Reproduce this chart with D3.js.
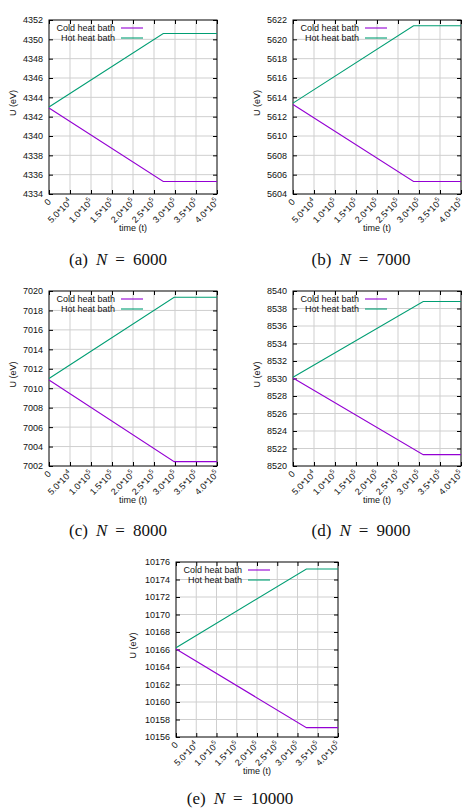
<!DOCTYPE html>
<html>
<head>
<meta charset="utf-8">
<script src="https://cdn.jsdelivr.net/npm/d3@7"></script>
<style>
    body { margin: 0; background: #fff; }
    svg { display: block; }
</style>
</head>
<body>
<svg width="464" height="812"></svg>
<script>
// five panels, cold / hot heat bath energy vs time
var panelLetter = ["a", "b", "c", "d", "e"];
var panelN = [6000, 7000, 8000, 9000, 10000];
var yMinVal = [4334, 5604, 7002, 8520, 10156];
var yMaxVal = [4352, 5622, 7020, 8540, 10176];
var breakTime = [2.72e5, 2.87e5, 2.98e5, 3.1e5, 3.22e5];
var coldStart = [4342.9, 5613.25, 7010.85, 8530.05, 10166.05];
var coldEnd = [4335.3, 5605.3, 7002.45, 8521.3, 10157.07];
var hotStart = [4343.0, 5613.4, 7011.0, 8530.15, 10166.2];
var hotEnd = [4350.6, 5621.4, 7019.35, 8538.8, 10175.2];
var tEnd = 4e5;

var xTicks = [0, 5e4, 1e5, 1.5e5, 2e5, 2.5e5, 3e5, 3.5e5, 4e5];
var xTickMant = ["0", "5.0", "1.0", "1.5", "2.0", "2.5", "3.0", "3.5", "4.0"];
var xTickExp = ["", "4", "5", "5", "5", "5", "5", "5", "5"];

var seriesNames = ["Cold heat bath", "Hot heat bath"];
var seriesColors = ["#9400d3", "#009e73"];

// layout of the panels on the page
var panelLeft = [49, 293, 49, 293, 176];
var panelTop = [20, 20, 291, 291, 562];
var panelW = [168, 168, 168, 168, 162];
var panelH = [174, 174, 175, 175, 175];
var captionX = [118, 361, 118, 361, 240];
var captionY = [265, 265, 536, 536, 804];

var svg = d3.select("svg");
var font = "'Liberation Sans', Arial, sans-serif";

function drawPanel(i) {
    var w = panelW[i], h = panelH[i];
    var g = svg.append("g")
        .attr("transform", "translate(" + panelLeft[i] + "," + panelTop[i] + ")");

    var x = d3.scaleLinear().domain([0, tEnd]).range([0, w]);
    var y = d3.scaleLinear().domain([yMinVal[i], yMaxVal[i]]).range([h, 0]);
    var yTicks = d3.range(yMinVal[i], yMaxVal[i] + 1, 2);

    // grid
    g.append("g").selectAll("line")
        .data(xTicks.slice(1, -1))
        .enter().append("line")
        .attr("x1", function (d) { return x(d); })
        .attr("x2", function (d) { return x(d); })
        .attr("y1", 0).attr("y2", h)
        .attr("stroke", "#cfcfcf").attr("stroke-width", 1);
    g.append("g").selectAll("line")
        .data(yTicks.slice(1, -1))
        .enter().append("line")
        .attr("y1", function (d) { return y(d); })
        .attr("y2", function (d) { return y(d); })
        .attr("x1", 0).attr("x2", w)
        .attr("stroke", "#cfcfcf").attr("stroke-width", 1);

    // inward ticks on all four sides
    var yAxisL = d3.axisLeft(y).tickValues(yTicks).tickFormat(d3.format("d"))
        .tickSizeInner(-4).tickSizeOuter(0).tickPadding(6);
    var yAxisR = d3.axisRight(y).tickValues(yTicks).tickSizeInner(-4).tickSizeOuter(0).tickFormat("");
    var xAxisB = d3.axisBottom(x).tickValues(xTicks).tickSizeInner(-4).tickSizeOuter(0).tickFormat("");
    var xAxisT = d3.axisTop(x).tickValues(xTicks).tickSizeInner(-4).tickSizeOuter(0).tickFormat("");

    var gl = g.append("g").call(yAxisL);
    gl.selectAll("text").attr("font-family", font).attr("font-size", 9).attr("fill", "#111");
    g.append("g").attr("transform", "translate(" + w + ",0)").call(yAxisR);
    g.append("g").attr("transform", "translate(0," + h + ")").call(xAxisB);
    g.append("g").call(xAxisT);
    g.selectAll(".domain").remove();
    g.selectAll(".tick line").attr("stroke", "#000");

    // rotated x tick labels with superscript exponents
    var xl = g.append("g").selectAll("text")
        .data(xTicks)
        .enter().append("text")
        .attr("transform", function (d) {
            return "translate(" + (x(d) - 1) + "," + (h + 5) + ") rotate(-45)";
        })
        .attr("text-anchor", "end")
        .attr("dy", "0.55em")
        .attr("font-family", font)
        .attr("font-size", 9)
        .attr("fill", "#111");
    xl.append("tspan").text(function (d, k) {
        return k === 0 ? xTickMant[k] : xTickMant[k] + "*10";
    });
    xl.append("tspan")
        .attr("font-size", 6.5)
        .attr("dy", "-0.6em")
        .text(function (d, k) { return xTickExp[k]; });

    // border
    g.append("rect")
        .attr("width", w).attr("height", h)
        .attr("fill", "none").attr("stroke", "#000").attr("stroke-width", 1);

    // series
    var cold = [[0, coldStart[i]], [breakTime[i], coldEnd[i]], [tEnd, coldEnd[i]]];
    var hot = [[0, hotStart[i]], [breakTime[i], hotEnd[i]], [tEnd, hotEnd[i]]];
    var line = d3.line()
        .x(function (d) { return x(d[0]); })
        .y(function (d) { return y(d[1]); });
    g.append("g").selectAll("path")
        .data([cold, hot])
        .enter().append("path")
        .attr("d", line)
        .attr("fill", "none")
        .attr("stroke", function (d, k) { return seriesColors[k]; })
        .attr("stroke-width", 1.1);

    // legend
    var lg = g.append("g").selectAll("g")
        .data(seriesNames)
        .enter().append("g")
        .attr("transform", function (d, k) { return "translate(0," + (8 + k * 10) + ")"; });
    lg.append("text")
        .attr("x", 66).attr("dy", "0.35em")
        .attr("text-anchor", "end")
        .attr("font-family", font).attr("font-size", 9)
        .attr("fill", "#111")
        .text(function (d) { return d; });
    lg.append("line")
        .attr("x1", 72).attr("x2", 94)
        .attr("stroke", function (d, k) { return seriesColors[k]; })
        .attr("stroke-width", 1.1);

    // axis titles
    g.append("text")
        .attr("x", w / 2).attr("y", h + 37)
        .attr("text-anchor", "middle")
        .attr("font-family", font).attr("font-size", 9)
        .attr("fill", "#111")
        .text("time (t)");
    g.append("text")
        .attr("transform", "translate(" + (i === 4 ? -40 : -33) + "," + (h / 2 - 4) + ") rotate(-90)")
        .attr("text-anchor", "middle")
        .attr("font-family", font).attr("font-size", 9)
        .attr("fill", "#111")
        .text("U (eV)");

    // caption
    var cap = svg.append("text")
        .attr("x", captionX[i]).attr("y", captionY[i])
        .attr("text-anchor", "middle")
        .attr("font-family", "'Liberation Serif', 'DejaVu Serif', serif")
        .attr("font-size", 17)
        .attr("fill", "#111");
    cap.append("tspan").text("(" + panelLetter[i] + ")");
    cap.append("tspan").attr("dx", 8).attr("font-style", "italic").text("N");
    cap.append("tspan").attr("dx", 8).text("=");
    cap.append("tspan").attr("dx", 8).text(panelN[i]);
}

for (var i = 0; i < panelN.length; i++) {
    drawPanel(i);
}
</script>
</body>
</html>
